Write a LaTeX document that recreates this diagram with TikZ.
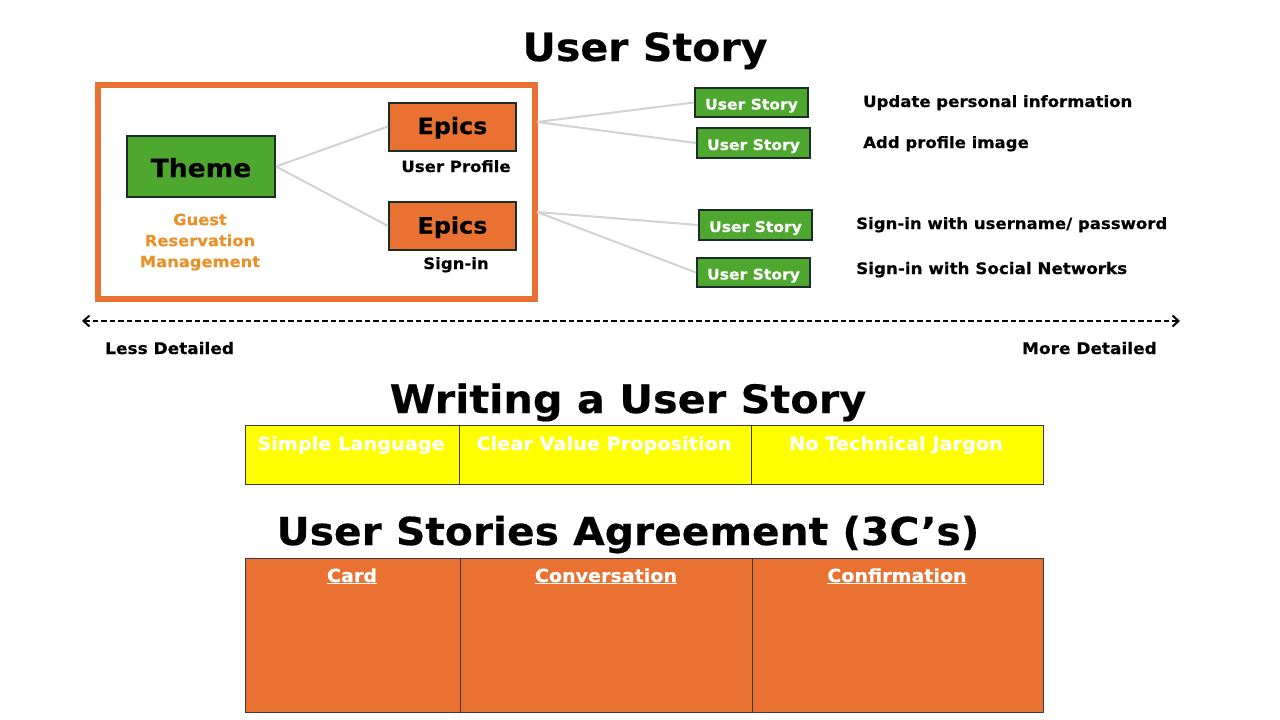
\documentclass[tikz,border=0pt]{standalone}
\usepackage{fontspec}
\newfontfamily\abf[FakeStretch=1.06,FakeBold=0.4]{DejaVu Sans Bold}
\usetikzlibrary{arrows.meta}
\definecolor{orng}{HTML}{E97132}
\definecolor{grn}{HTML}{4EA72E}
\definecolor{gold}{HTML}{E9922B}
\definecolor{edgec}{HTML}{1B2D24}
\definecolor{conn}{HTML}{D2D2D2}
\definecolor{yel}{HTML}{FFFF00}
\definecolor{celledge}{HTML}{3A3A3A}
\newcommand\myfs[2]{\fontsize{#1}{#2}\selectfont}
\tikzset{
  tx/.style={inner sep=0pt, anchor=base, font=\abf\myfs{#1}{#1}},
  boxc/.style={draw=edgec, line width=2pt, inner sep=0pt, text depth=0pt},
  themebox/.style={boxc, fill=grn, minimum width=148pt, minimum height=61pt, text height=21pt, font=\abf\myfs{25}{25}},
  epicbox/.style={boxc, fill=orng, minimum width=127pt, minimum height=48pt, text height=15pt, font=\abf\myfs{22.5}{22.5}},
  storybox/.style={boxc, fill=grn, minimum width=113pt, minimum height=29pt, text height=14pt, text=white, font=\abf\myfs{14.7}{14.7}},
  connline/.style={draw=conn, line width=2pt},
  framebox/.style={draw=orng, line width=6pt, minimum width=437pt, minimum height=214pt, inner sep=0pt},
  ycell/.style={draw=celledge, line width=1pt, fill=yel, minimum height=59pt, inner sep=0pt},
  ocell/.style={draw=celledge, line width=1pt, fill=orng, minimum height=154pt, inner sep=0pt},
  scalearrow/.style={dashed, dash pattern=on 5.5pt off 3pt, line width=1.5pt,
    {Straight Barb[length=6pt,width=11pt,line width=2pt]}-{Straight Barb[length=6pt,width=11pt,line width=2pt]}},
}
\begin{document}
\begin{tikzpicture}[x=1pt,y=-1pt]
\useasboundingbox[fill=white] (0,0) rectangle (1280,720);

% title
\node[tx=38.8] (t1) at (645,61) {User Story};

% frame
\node[framebox] (frame) at (316.5,192) {};

% theme + epics
\node[themebox] (theme) at (201,166.5) {Theme};
\node[epicbox] (ep1) at (452.5,126.5) {Epics};
\node[epicbox] (ep2) at (452.5,226) {Epics};
\node[tx=15.6] (ep1l) at (456,172) {User Profile};
\node[tx=15.6] (ep2l) at (456,269) {Sign-in};
\node[inner sep=0pt, anchor=north, align=center, text=gold, font=\abf\myfs{15.4}{21}] (guest) at (200,213.5) {Guest\\Reservation\\Management};

\draw[connline] (theme.east) -- (ep1.west);
\draw[connline] (theme.east) -- (ep2.west);

% user stories
\node[storybox] (us1) at (751.5,102.5) {User Story};
\node[storybox, minimum height=30pt] (us2) at (753.5,143) {User Story};
\node[storybox, minimum height=30pt] (us3) at (755.5,225) {User Story};
\node[storybox] (us4) at (753.5,272.5) {User Story};

\coordinate (f1) at (537,122);
\coordinate (f2) at (537,212);
\draw[connline] (f1) -- (us1.west);
\draw[connline] (f1) -- (us2.west);
\draw[connline] (f2) -- (us3.west);
\draw[connline] (f2) -- (us4.west);

\node[tx=15.6, anchor=base west] (d1) at (863,107) {Update personal information};
\node[tx=15.6, anchor=base west] (d2) at (863,148) {Add profile image};
\node[tx=15.6, anchor=base west] (d3) at (856,229) {Sign-in with username/ password};
\node[tx=15.8, anchor=base west] (d4) at (856,274) {Sign-in with Social Networks};

% detail scale
\coordinate (la) at (82,321);
\coordinate (ra) at (1180,321);
\draw[scalearrow] (la) -- (ra);
\node[tx=16, anchor=base west] (less) at (105,354) {Less Detailed};
\node[tx=16, anchor=base east] (more) at (1157,354) {More Detailed};

% writing a user story
\node[tx=39.1] (t2) at (628,413) {Writing a User Story};
\node[ycell, minimum width=214pt] (y1) at (352,454.5) {};
\node[ycell, minimum width=292pt] (y2) at (605,454.5) {};
\node[ycell, minimum width=292pt] (y3) at (897,454.5) {};
\node[tx=18.2, text=white] (y1t) at (351,450) {Simple Language};
\node[tx=18.2, text=white] (y2t) at (604,450) {Clear Value Proposition};
\node[tx=18.2, text=white] (y3t) at (896,450) {No Technical Jargon};

% agreement
\node[tx=38.5] (t3) at (628,545) {User Stories Agreement (3C’s)};
\node[ocell, minimum width=215pt] (o1) at (352.5,635) {};
\node[ocell, minimum width=292pt] (o2) at (606,635) {};
\node[ocell, minimum width=291pt] (o3) at (897.5,635) {};
\node[tx=18, text=white] (o1t) at (352,582) {\underline{Card}};
\node[tx=18, text=white] (o2t) at (606,582) {\underline{Conversation}};
\node[tx=18, text=white] (o3t) at (897,582) {\underline{Confirmation}};
\end{tikzpicture}
\end{document}
